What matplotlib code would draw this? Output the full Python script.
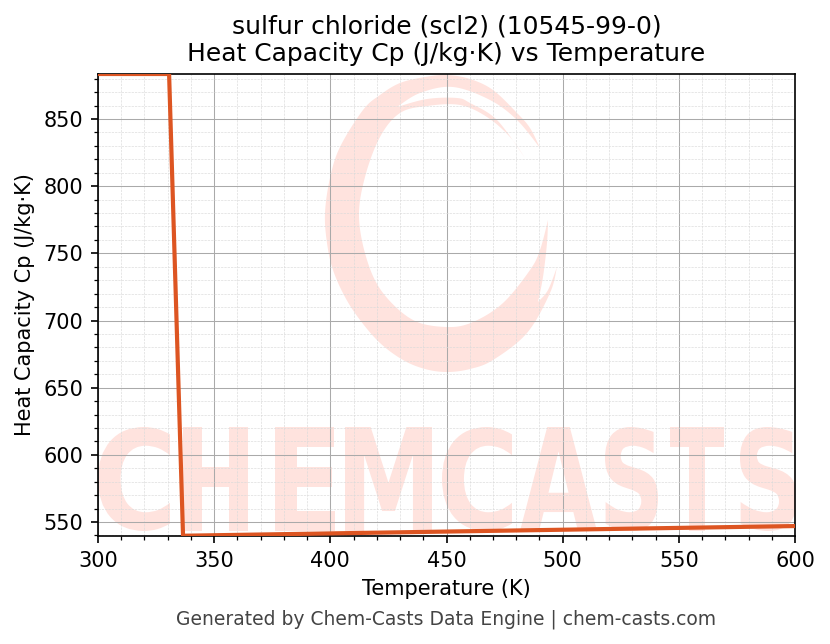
import matplotlib
matplotlib.use("Agg")
import matplotlib.pyplot as plt
import numpy as np
from matplotlib.font_manager import FontProperties
from matplotlib.patches import PathPatch, Polygon
from matplotlib.path import Path
from matplotlib.textpath import TextPath
from matplotlib.ticker import MultipleLocator

# Valores
temperature = [300, 330.6, 336.6, 600]
heat_capacity = [883.5, 883.5, 539.8, 547]

W, H = 830, 644
AX_L, AX_R, AX_T, AX_B = 98, 795, 74, 536
WM_COLOR = "#FFE3DE"


def px(x, y):
    """Pixel da imagem -> coordenadas da figura."""
    return x / W, 1 - y / H


def smooth(points, n=12):
    """Catmull-Rom entre os pontos, mantendo as pontas."""
    p = np.array(points, dtype=float)
    p = np.vstack([p[0], p, p[-1]])
    out = []
    for i in range(1, len(p) - 2):
        for t in np.linspace(0, 1, n, endpoint=False):
            out.append(0.5 * (2 * p[i] + (p[i + 1] - p[i - 1]) * t
                              + (2 * p[i - 1] - 5 * p[i] + 4 * p[i + 1] - p[i + 2]) * t ** 2
                              + (3 * p[i] - p[i - 1] - 3 * p[i + 1] + p[i + 2]) * t ** 3))
    out.append(p[-2])
    return out


def draw_watermark(fig, ax):
    # anel do logo, um trecho suave entre cada par de pontas
    sections = [
        [(540, 148), (530, 128), (517, 113), (493, 90), (470, 79), (447, 75), (425, 77), (400, 83),
         (380, 95), (363, 110), (340, 147), (330, 178), (325, 213), (327, 243), (333, 270),
         (345, 297), (360, 320), (380, 343), (403, 360), (425, 369), (447, 372), (470, 369),
         (493, 360), (527, 333), (550, 293), (557, 267)],
        [(557, 267), (548, 290), (538, 302)],
        [(538, 302), (543, 277), (547, 243), (548, 220)],
        [(548, 220), (540, 250), (530, 270), (503, 303), (473, 322), (447, 327), (413, 320),
         (383, 293), (367, 260), (359, 217), (365, 177), (380, 137), (400, 113), (427, 106),
         (460, 105), (487, 117), (510, 137), (525, 158)],
        [(525, 158), (497, 120), (470, 103), (457, 98), (427, 99), (397, 107)],
        [(397, 107), (420, 93), (453, 87), (490, 100), (517, 120), (540, 148)],
    ]
    ring = []
    for section in sections:
        ring.extend(smooth(section))
    ax.add_patch(Polygon([px(x, y) for x, y in ring], closed=True, transform=fig.transFigure,
                         fc=WM_COLOR, ec="none", zorder=0.5))

    # letras esticadas, cada uma em sua caixa
    boxes = [("C", 98, 170), ("H", 183, 248), ("E", 275, 335), ("M", 345, 432), ("C", 442, 512),
             ("A", 520, 597), ("S", 605, 658), ("T", 670, 724), ("S", 740, 797)]
    top, bottom = 427, 531
    font = FontProperties(family="DejaVu Sans", weight="bold")
    for letter, x0, x1 in boxes:
        tp = TextPath((0, 0), letter, size=100, prop=font)
        ext = tp.get_extents()
        verts = [
            px(x0 + (vx - ext.x0) / ext.width * (x1 - x0), bottom - (vy - ext.y0) / ext.height * (bottom - top))
            for vx, vy in tp.vertices
        ]
        ax.add_patch(PathPatch(Path(verts, tp.codes), transform=fig.transFigure,
                               fc=WM_COLOR, ec="none", zorder=0.5))


def main():
    fig = plt.figure(figsize=(W / 150, H / 150), dpi=150)
    ax = fig.add_axes([AX_L / W, 1 - AX_B / H, (AX_R - AX_L) / W, (AX_B - AX_T) / H])

    draw_watermark(fig, ax)

    ax.plot(temperature, heat_capacity, color="#DD5522", linewidth=2, zorder=3)

    ax.set_xlim(300, 600)
    ax.set_ylim(539.6, 883.5)
    ax.xaxis.set_major_locator(MultipleLocator(50))
    ax.xaxis.set_minor_locator(MultipleLocator(10))
    ax.yaxis.set_major_locator(MultipleLocator(50))
    ax.yaxis.set_minor_locator(MultipleLocator(10))
    ax.set_axisbelow(True)
    ax.grid(which="major", color="#AAAAAA", linewidth=0.5, linestyle="-", zorder=1)
    ax.grid(which="minor", color="#DADADA", linewidth=0.3, linestyle="--", zorder=1)
    ax.tick_params(labelsize=10)

    ax.set_xlabel("Temperature (K)", fontsize=10)
    ax.set_ylabel("Heat Capacity Cp (J/kg·K)", fontsize=10)
    ax.set_title("sulfur chloride (scl2) (10545-99-0)\nHeat Capacity Cp (J/kg·K) vs Temperature", fontsize=12, pad=6)

    fig.text(446 / W, 1 - 619 / H, "Generated by Chem-Casts Data Engine | chem-casts.com",
             ha="center", va="center", fontsize=9, color="#444444")

    fig.savefig("out.png", dpi=150)
    plt.close(fig)


if __name__ == "__main__":
    main()
